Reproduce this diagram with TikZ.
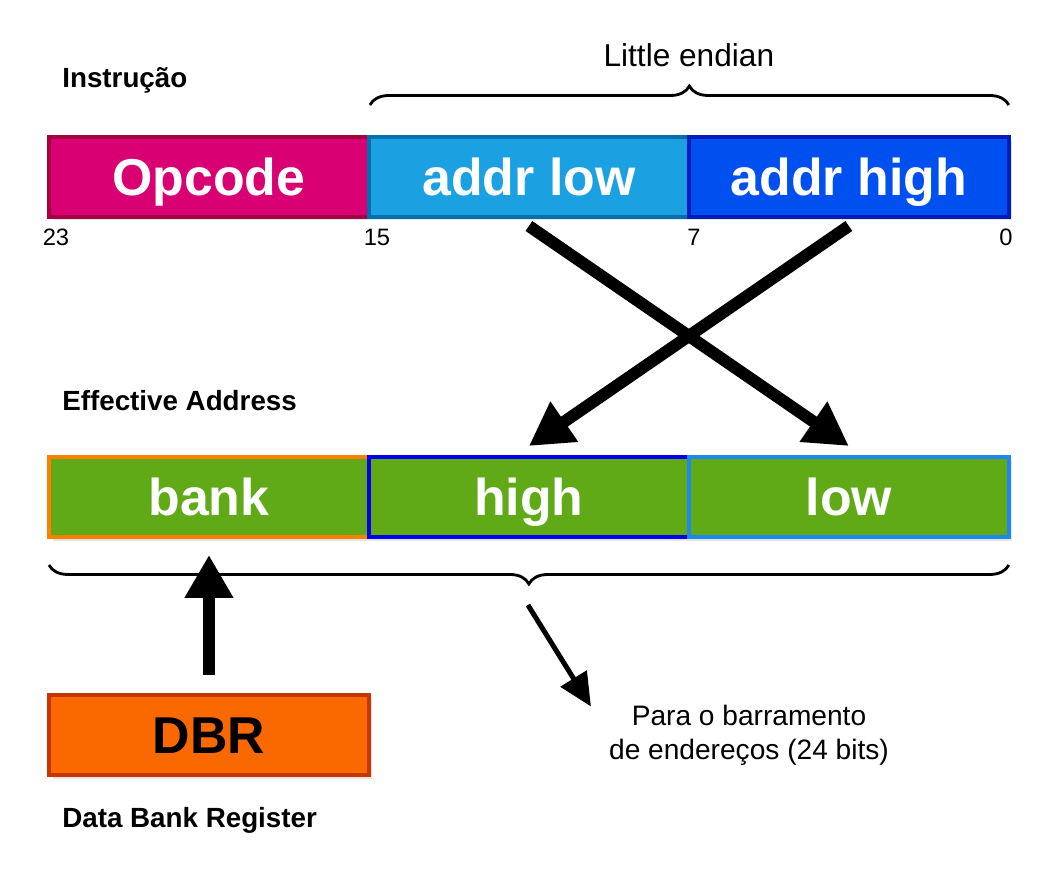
\documentclass[tikz,border=0pt]{standalone}
\usepackage{fontspec}
\setmainfont{Liberation Sans}
\usepackage{tikz}
\usetikzlibrary{calc}
\usetikzlibrary{arrows.meta}
\usetikzlibrary{positioning}
\usetikzlibrary{shadows}
\usetikzlibrary{decorations.pathreplacing}
\definecolor{opfill}{HTML}{D80073}
\definecolor{opline}{HTML}{A50040}
\definecolor{lowfill}{HTML}{1BA1E2}
\definecolor{lowline}{HTML}{006EAF}
\definecolor{highfill}{HTML}{0050EF}
\definecolor{highline}{HTML}{001DBC}
\definecolor{eafill}{HTML}{60A917}
\definecolor{bankline}{HTML}{FF8000}
\definecolor{eahighline}{HTML}{0000F0}
\definecolor{ealowline}{HTML}{1E88F0}
\definecolor{dbrfill}{HTML}{FA6800}
\definecolor{dbrline}{HTML}{C73500}
\tikzset{%
  myfield/.style={rectangle, draw, line width=0.08cm, minimum width=6.4cm, minimum height=1.6cm,
    inner sep=0pt, outer sep=0pt, text=white, font=\bfseries\fontsize{29.5}{34}\selectfont,
    text height=21pt, text depth=0pt,
    drop shadow={opacity=0.2, shadow xshift=2pt, shadow yshift=-2pt}},
  mytitle/.style={anchor=west, inner sep=0pt, font=\bfseries\fontsize{15.8}{19}\selectfont},
  mytext/.style={font=\fontsize{16}{19.5}\selectfont},
  mybit/.style={font=\fontsize{13.5}{16}\selectfont},
  myedge/.style={-{Triangle[length=0.86cm, width=0.92cm]}, line width=0.24cm},
  mysmalledge/.style={-{Triangle[length=0.66cm, width=0.6cm]}, line width=0.1cm},
  mybrace/.style={decorate, decoration={brace, amplitude=0.38cm}, line width=1.6pt}
}

\begin{document}
\begin{tikzpicture}[x=0.02cm, y=-0.02cm]
\useasboundingbox (0,0) rectangle (1062,882);

% instruction
\node [mytitle] (instr) at (62,80) {Instrução};
\node [myfield, fill=opfill, draw=opline, anchor=north west] (opcode) at (49,137) {Opcode};
\node [myfield, fill=lowfill, draw=lowline, right=0pt of opcode] (addrlow) {addr low};
\node [myfield, fill=highfill, draw=highline, right=0pt of addrlow] (addrhigh) {addr high};

\foreach \x / \bit in {56/23, 377/15, 694/7, 1006/0}{
  \node [mybit] (bit\bit) at (\x,237) {\bit};
}

\draw [mybrace] ($(addrlow.north west)+(1,-32)$) -- ($(addrhigh.north east)+(0,-32)$);
\node [mytext, font=\fontsize{18}{21}\selectfont] (endian) at ($(addrlow.north east)+(0,-82)$) {Little endian};

% effective address
\node [mytitle] (ea) at (62,401) {Effective Address};
\node [myfield, fill=eafill, draw=bankline, anchor=north west] (bank) at (49,457) {bank};
\node [myfield, fill=eafill, draw=eahighline, right=0pt of bank] (high) {high};
\node [myfield, fill=eafill, draw=ealowline, right=0pt of high] (low) {low};

\draw [myedge] ($(addrlow.south)+(0,9)$) -- ($(low.north)+(0,-11)$);
\draw [myedge] ($(addrhigh.south)+(0,9)$) -- ($(high.north)+(0,-11)$);

\draw [mybrace] ($(low.south east)+(0,28)$) -- ($(bank.south west)+(0,28)$);

% data bank register
\node [myfield, fill=dbrfill, draw=dbrline, text=black, anchor=north west] (dbr) at (49,695) {DBR};
\node [mytitle] (dbrname) at (62,820) {Data Bank Register};
\draw [myedge] ($(dbr.north)+(0,-20)$) -- ($(bank.south)+(0,18)$);

% bus
\node [mytext, align=center] (bus) at (749,735) {Para o barramento\\de endereços (24 bits)};
\draw [mysmalledge] ($(high.south)+(-1,68)$) -- ($(bus.north west)+(-12,8)$);

\end{tikzpicture}
\end{document}
